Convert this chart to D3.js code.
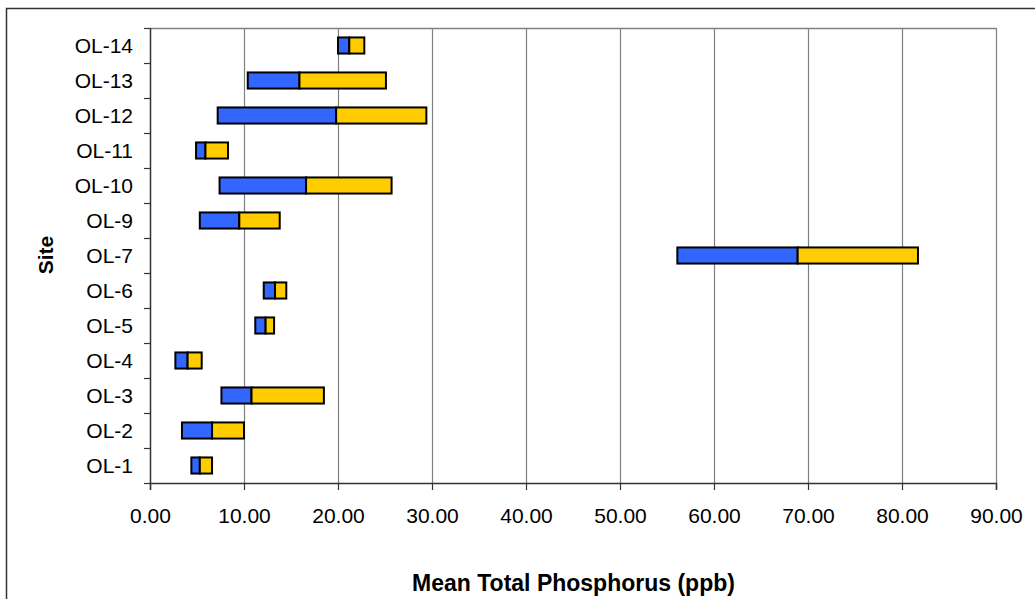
<!DOCTYPE html>
<html>
<head>
<meta charset="UTF-8">
<script src="https://d3js.org/d3.v7.min.js"></script>
<style>
body { margin: 0; background: #fff; }
svg { font-family: "Liberation Sans", Arial, sans-serif; }
</style>
</head>
<body>
<svg width="1035" height="599"></svg>
<script>

// sites from bottom to top, with low / mean / high total phosphorus (ppb)
var sites = ["OL-1", "OL-2", "OL-3", "OL-4", "OL-5", "OL-6", "OL-7", "OL-9", "OL-10", "OL-11", "OL-12", "OL-13", "OL-14"];
var lowVals  = [4.4, 3.4, 7.6, 2.7, 11.2, 12.1, 56.1, 5.3, 7.4, 4.9, 7.2, 10.4, 20.0];
var meanVals = [5.3, 6.6, 10.8, 4.0, 12.3, 13.3, 68.9, 9.5, 16.6, 5.9, 19.8, 15.9, 21.2];
var highVals = [6.6, 10.0, 18.5, 5.5, 13.2, 14.5, 81.7, 13.8, 25.7, 8.3, 29.4, 25.1, 22.8];
var xTicks = [0, 10, 20, 30, 40, 50, 60, 70, 80, 90];

var svg = d3.select("svg"),
    margin = {top: 28, right: 39, bottom: 116, left: 150},
    width = +svg.attr("width") - margin.left - margin.right,
    height = +svg.attr("height") - margin.top - margin.bottom;

// outer chart frame (runs off the right and bottom of the picture)
svg.append("rect")
    .attr("x", 6.5).attr("y", 8.5)
    .attr("width", 1100).attr("height", 700)
    .attr("fill", "none")
    .attr("stroke", "#333")
    .attr("stroke-width", 1.5);

var g = svg.append("g").attr("transform", "translate(" + margin.left + "," + margin.top + ")");

var x = d3.scaleLinear().domain([0, 90]).range([0, width]);
var y = d3.scaleBand().domain(sites.slice().reverse()).range([0, height]).paddingInner(0.54).paddingOuter(0.27);
var yb = d3.scaleBand().domain(sites.slice().reverse()).range([0, height]);

// gridlines
g.selectAll(".grid")
    .data(xTicks.slice(1))
  .enter().append("line")
    .attr("x1", function(d) { return Math.round(x(d)) + 0.5; })
    .attr("x2", function(d) { return Math.round(x(d)) + 0.5; })
    .attr("y1", 0).attr("y2", height)
    .attr("stroke", "#808080")
    .attr("stroke-width", 1.2);

// top border of plot area
g.append("line")
    .attr("x1", 0).attr("x2", width)
    .attr("y1", 0.5).attr("y2", 0.5)
    .attr("stroke", "#808080")
    .attr("stroke-width", 1.5);

var rows = sites.map(function(s, i) {
  return {site: s, low: lowVals[i], mean: meanVals[i], high: highVals[i]};
});

// blue part: low to mean
g.selectAll(".lo")
    .data(rows)
  .enter().append("rect")
    .attr("x", function(d) { return x(d.low); })
    .attr("y", function(d) { return y(d.site); })
    .attr("width", function(d) { return x(d.mean) - x(d.low); })
    .attr("height", y.bandwidth())
    .attr("fill", "#3366ff")
    .attr("stroke", "#000")
    .attr("stroke-width", 2);

// yellow part: mean to high
g.selectAll(".hi")
    .data(rows)
  .enter().append("rect")
    .attr("x", function(d) { return x(d.mean); })
    .attr("y", function(d) { return y(d.site); })
    .attr("width", function(d) { return x(d.high) - x(d.mean); })
    .attr("height", y.bandwidth())
    .attr("fill", "#ffcc00")
    .attr("stroke", "#000")
    .attr("stroke-width", 2);

// left axis: ticks at band edges, labels centred on bands
g.append("line")
    .attr("x1", 0.5).attr("x2", 0.5)
    .attr("y1", 0).attr("y2", height)
    .attr("stroke", "#333").attr("stroke-width", 1.5);

var edges = yb.domain().map(function(d) { return yb(d); }).concat([height]);
g.selectAll(".ytick")
    .data(edges)
  .enter().append("line")
    .attr("x1", -6).attr("x2", 0)
    .attr("y1", function(d) { return Math.round(d) + 0.5; })
    .attr("y2", function(d) { return Math.round(d) + 0.5; })
    .attr("stroke", "#333").attr("stroke-width", 1.2);

g.selectAll(".ylab")
    .data(sites)
  .enter().append("text")
    .attr("x", -17)
    .attr("y", function(d) { return yb(d) + yb.bandwidth() / 2; })
    .attr("dy", "0.36em")
    .attr("text-anchor", "end")
    .attr("font-size", 21)
    .attr("fill", "#000")
    .text(function(d) { return d; });

// bottom axis
var xAxis = g.append("g")
    .attr("transform", "translate(0," + height + ")")
    .call(d3.axisBottom(x).tickValues(xTicks).tickSize(7).tickPadding(18).tickFormat(d3.format(".2f")));

xAxis.select(".domain").attr("stroke", "#333").attr("stroke-width", 1.5);
xAxis.selectAll(".tick line").attr("stroke", "#333").attr("stroke-width", 1.2);
xAxis.selectAll("text")
    .attr("font-size", 21)
    .attr("font-family", "Liberation Sans, Arial, sans-serif")
    .attr("fill", "#000");

// axis titles
svg.append("text")
    .attr("x", margin.left + width / 2 + 0.5)
    .attr("y", 591)
    .attr("text-anchor", "middle")
    .attr("font-size", 23)
    .attr("font-weight", "bold")
    .attr("fill", "#000")
    .text("Mean Total Phosphorus (ppb)");

svg.append("text")
    .attr("transform", "translate(53,255) rotate(-90)")
    .attr("text-anchor", "middle")
    .attr("font-size", 21)
    .attr("font-weight", "bold")
    .attr("fill", "#000")
    .text("Site");

</script>
</body>
</html>
